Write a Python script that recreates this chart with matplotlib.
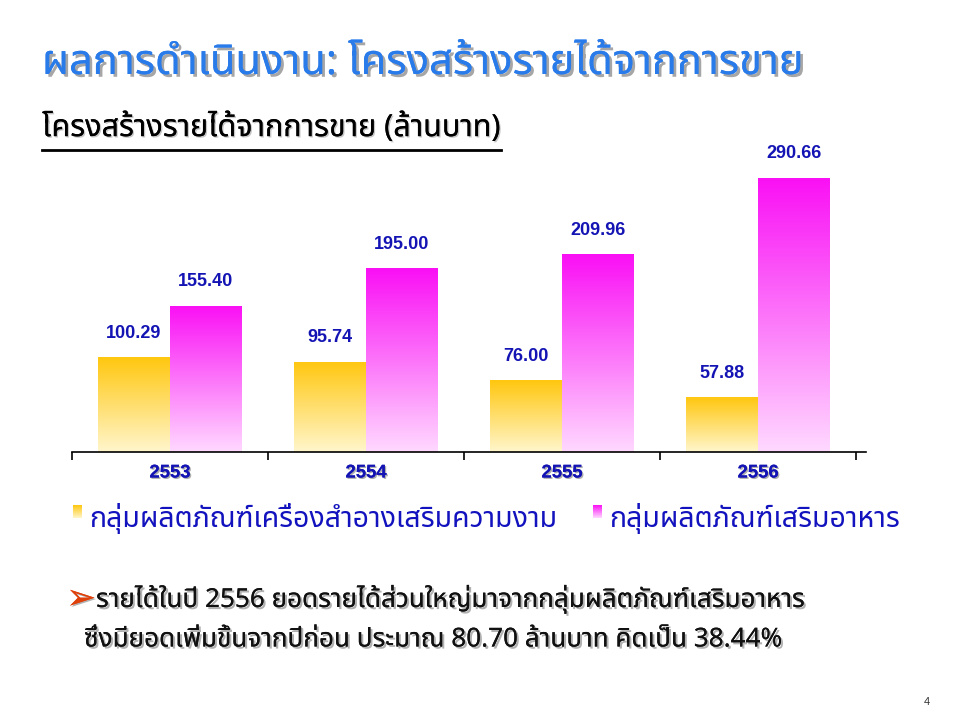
import numpy as np
import matplotlib
matplotlib.use("Agg")
import matplotlib.pyplot as plt
import matplotlib.patheffects as pe
from matplotlib.colors import LinearSegmentedColormap

years = ["2553", "2554", "2555", "2556"]
beauty = [100.29, 95.74, 76.00, 57.88]
food = [155.40, 195.00, 209.96, 290.66]
series_names = ["กลุ่มผลิตภัณฑ์เครื่องสำอางเสริมความงาม", "กลุ่มผลิตภัณฑ์เสริมอาหาร"]
title = "ผลการดำเนินงาน: โครงสร้างรายได้จากการขาย"
subtitle = "โครงสร้างรายได้จากการขาย (ล้านบาท)"
bullet1 = "รายได้ในปี 2556 ยอดรายได้ส่วนใหญ่มาจากกลุ่มผลิตภัณฑ์เสริมอาหาร"
bullet2 = "ซึ่งมียอดเพิ่มขึ้นจากปีก่อน ประมาณ 80.70 ล้านบาท คิดเป็น 38.44%"

THAI = ['Noto Sans Thai', 'Noto Sans Thai UI', 'Loma', 'Garuda', 'Tlwg Typo', 'Norasi', 'Sarabun', 'Tahoma', 'Noto Sans', 'DejaVu Sans']
plt.rcParams['font.family'] = THAI

W, H = 962, 722
fig = plt.figure(figsize=(W/100, H/100), dpi=100)

def px(x0, y0, w, h):
    return [x0/W, 1 - (y0+h)/H, w/W, h/H]

ax = fig.add_axes(px(72, 140, 794, 312))
ppu = 0.9427
ymax = 312/ppu
xmax = 4*794/784

gold = LinearSegmentedColormap.from_list("g", [(1.0, 0.965, 0.80), (1.0, 0.78, 0.06)])
mag = LinearSegmentedColormap.from_list("m", [(1.0, 0.85, 1.0), (0.98, 0.06, 0.96)])
grad = np.linspace(0, 1, 256).reshape(-1, 1)

bw = 0.367
xs = np.arange(len(years)) + 0.5
for vals, off, cmap in [(beauty, -bw/2, gold), (food, bw/2, mag)]:
    bars = ax.bar(xs + off, vals, width=bw, color='none', edgecolor='none')
    for b, v in zip(bars, vals):
        x0 = b.get_x()
        im = ax.imshow(grad, extent=[x0, x0+bw, 0, v], origin='lower', aspect='auto',
                       cmap=cmap, vmin=0, vmax=1, zorder=2)
        im.set_clip_path(b)
        ax.text(x0 + bw/2, v + 24/ppu, f"{v:.2f}", ha='center', va='center',
                fontsize=13, fontweight='bold', color='#1414B4', family='Liberation Sans')
ax.set_xlim(0, xmax)
ax.set_ylim(0, ymax)

for s in ['top', 'right', 'left']:
    ax.spines[s].set_visible(False)
ax.spines['bottom'].set_linewidth(1.2)
ax.set_yticks([])
ax.set_xticks([0, 1, 2, 3, 4])
ax.set_xticklabels([])
ax.tick_params(axis='x', direction='out', length=6, width=1.2)
shadow = [pe.withSimplePatchShadow(offset=(1, -1), shadow_rgbFace='#9a9a9a', alpha=0.8), pe.Normal()]
for x, y in zip(xs, years):
    ax.text(x, -21/ppu, y, ha='center', va='center', fontsize=13.3, fontweight='bold',
            color='#1414B4', family='Liberation Sans', path_effects=shadow)

# Title
fig.text(42/W, 1 - 63/H, title, ha='left', va='center', fontsize=30, fontweight='bold',
         color='#2A7BEA', path_effects=[pe.withSimplePatchShadow(offset=(2, -2), shadow_rgbFace='#808080', alpha=0.7), pe.Normal()])
# Subtitle with underline
st = fig.text(42/W, 1 - 128/H, subtitle, ha='left', va='center', fontsize=22, fontweight='bold',
              color='black', path_effects=[pe.withSimplePatchShadow(offset=(1, -1), shadow_rgbFace='#b0b0b0', alpha=0.7), pe.Normal()])
fig.canvas.draw()
bb = st.get_window_extent()
fig.add_artist(plt.Line2D([bb.x0/W, bb.x1/W], [1 - 150/H, 1 - 150/H], color='black', lw=2))

# Legend
lax = fig.add_axes([0, 0, 1, 1], facecolor='none')
lax.axis('off')
for (x0, name, cmap) in [(73, series_names[0], gold), (593, series_names[1], mag)]:
    lax.imshow(grad[::-1], extent=[x0, x0+9, 518, 505], cmap=cmap, vmin=0, vmax=1, aspect='auto')
    lax.text(x0 + 16, 519, name, ha='left', va='center', fontsize=20.5, color='#1212BE')
lax.set_xlim(0, W); lax.set_ylim(H, 0)

# Bullet
lax.text(66, 599, "➢", ha='left', va='center', fontsize=26, color='#E0400A', family='DejaVu Sans',
         path_effects=[pe.withSimplePatchShadow(offset=(1, -1), shadow_rgbFace='#808080', alpha=0.6), pe.Normal()])
bshadow = [pe.withSimplePatchShadow(offset=(1.5, -1.5), shadow_rgbFace='#909090', alpha=0.7), pe.Normal()]
lax.text(96, 599, bullet1, ha='left', va='center', fontsize=18.8, fontweight='bold', color='#111111', path_effects=bshadow)
lax.text(84, 640, bullet2, ha='left', va='center', fontsize=18.8, fontweight='bold', color='#111111', path_effects=bshadow)

lax.text(927, 702, "4", ha='center', va='center', fontsize=8, color='#333333', family='Liberation Sans')

fig.savefig("out.png", dpi=100)
